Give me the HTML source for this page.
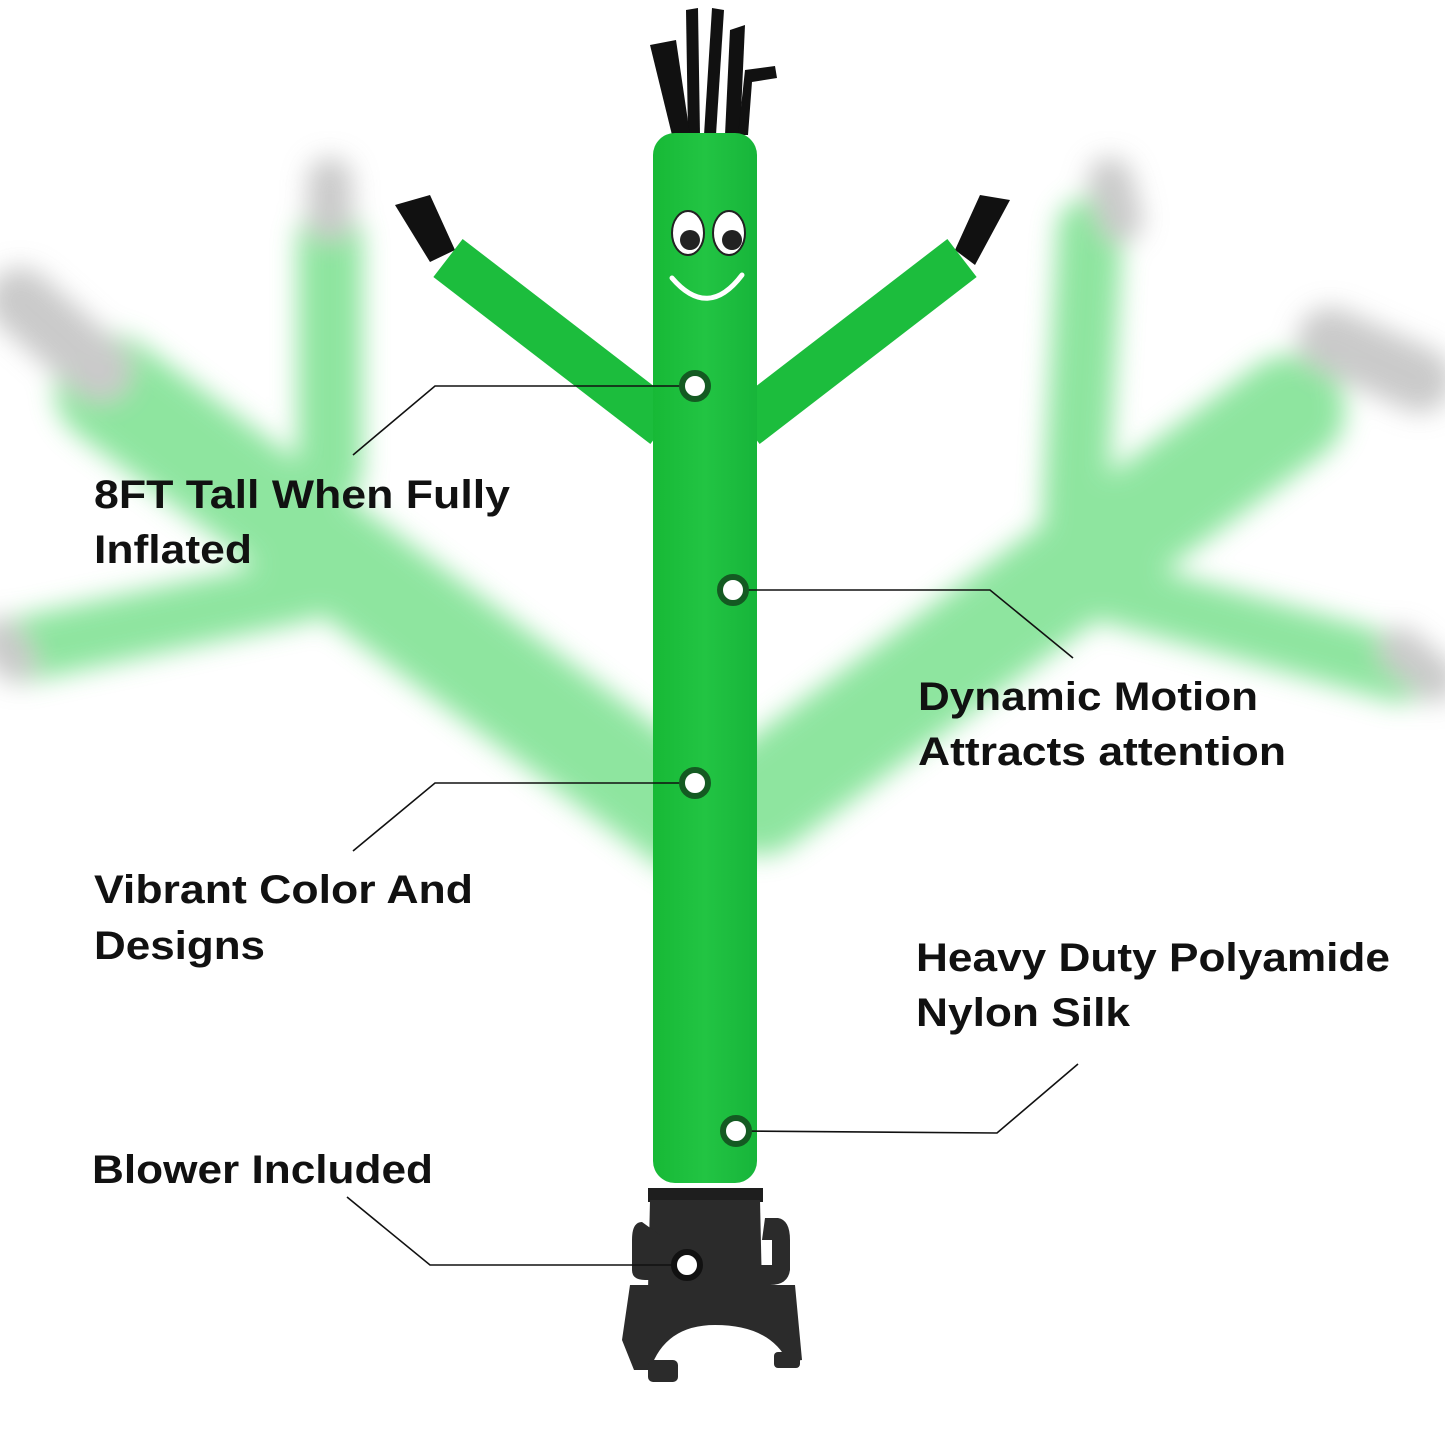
<!DOCTYPE html>
<html><head><meta charset="utf-8"><style>
html,body{margin:0;padding:0;background:#fff}
svg{display:block}
text{font-family:"Liberation Sans",Arial,sans-serif;font-weight:bold;font-size:40px;fill:#111}
</style></head><body>
<svg width="1445" height="1445" viewBox="0 0 1445 1445" xmlns="http://www.w3.org/2000/svg">
<defs>
<filter id="b" x="-20%" y="-20%" width="140%" height="140%"><feGaussianBlur stdDeviation="13"/></filter>
<linearGradient id="g" x1="0" x2="1"><stop offset="0" stop-color="#17b936"/><stop offset="0.5" stop-color="#22c443"/><stop offset="1" stop-color="#17b53a"/></linearGradient>
</defs>
<rect width="1445" height="1445" fill="#fff"/>
<g filter="url(#b)" stroke-linecap="round" opacity="0.8">
 <g stroke="#72df88">
  <line x1="110" y1="390" x2="690" y2="820" stroke-width="110"/>
  <line x1="300" y1="590" x2="20" y2="650" stroke-width="65"/>
  <line x1="330" y1="240" x2="330" y2="470" stroke-width="65"/>
  <line x1="1290" y1="410" x2="760" y2="800" stroke-width="110"/>
  <line x1="1110" y1="590" x2="1400" y2="670" stroke-width="65"/>
  <line x1="1090" y1="230" x2="1075" y2="510" stroke-width="65"/>
 </g>
 <g stroke="#bdbdbd">
  <line x1="20" y1="300" x2="100" y2="370" stroke-width="65"/>
  <line x1="1330" y1="340" x2="1420" y2="380" stroke-width="65"/>
  <line x1="330" y1="180" x2="330" y2="220" stroke-width="45"/>
  <line x1="1110" y1="180" x2="1120" y2="220" stroke-width="45"/>
  <line x1="1400" y1="650" x2="1435" y2="680" stroke-width="45"/>
  <line x1="0" y1="640" x2="15" y2="660" stroke-width="45"/>
 </g>
</g>
<g fill="#111">
 <path d="M686 10 L698 8 L700 135 L688 135 Z"/>
 <path d="M712 8 L724 10 L716 135 L704 135 Z"/>
 <path d="M650 45 L676 40 L690 135 L672 135 Z"/>
 <path d="M730 30 L745 25 L740 135 L725 135 Z"/>
 <path d="M745 70 L775 66 L777 78 L752 82 L748 135 L738 135 Z"/>
 <path d="M395 205 L430 195 L455 250 L430 262 Z"/>
 <path d="M1010 200 L980 195 L955 250 L975 265 Z"/>
</g>
<g stroke-width="48" stroke-linecap="butt">
 <line x1="448" y1="258" x2="665" y2="425" stroke="#1cbd3d"/>
 <line x1="962" y1="258" x2="745" y2="425" stroke="#1cbd3d"/>
</g>
<rect x="653" y="133" width="104" height="1050" rx="22" fill="url(#g)"/>
<ellipse cx="688" cy="233" rx="16" ry="22" fill="#fff" stroke="#222" stroke-width="2"/>
<ellipse cx="729" cy="233" rx="16" ry="22" fill="#fff" stroke="#222" stroke-width="2"/>
<circle cx="690" cy="240" r="10" fill="#222"/>
<circle cx="732" cy="240" r="10" fill="#222"/>
<path d="M672 278 Q708 320 742 275" stroke="#fff" stroke-width="5" fill="none" stroke-linecap="round"/>
<g fill="#2b2b2b">
 <rect x="648" y="1188" width="115" height="14" fill="#1e1e1e"/>
 <path d="M650 1200 L760 1200 L762 1290 L648 1290 Z"/>
 <path d="M642 1222 Q632 1222 632 1240 L632 1270 Q632 1280 645 1280 L660 1280 L660 1235 Z"/>
 <path d="M765 1218 L778 1218 Q790 1220 790 1240 L790 1270 Q788 1285 770 1285 L760 1285 L760 1265 L772 1265 L772 1240 L762 1240 Z"/>
 <path d="M630 1285 L795 1285 L802 1360 L788 1362 Q770 1325 715 1325 Q665 1325 650 1370 L634 1370 L622 1340 Z"/>
 <rect x="648" y="1360" width="30" height="22" rx="5"/>
 <rect x="774" y="1352" width="26" height="16" rx="4"/>
</g>
<g stroke="#111" stroke-width="1.6" fill="none">
 <polyline points="695,386 435,386 353,455"/>
 <polyline points="733,590 990,590 1073,658"/>
 <polyline points="695,783 435,783 353,851"/>
 <polyline points="736,1131 997,1133 1078,1064"/>
 <polyline points="687,1265 430,1265 347,1197"/>
</g>
<g fill="#fff" stroke="#145a22" stroke-width="6">
 <circle cx="695" cy="386" r="13"/>
 <circle cx="733" cy="590" r="13"/>
 <circle cx="695" cy="783" r="13"/>
 <circle cx="736" cy="1131" r="13"/>
 <circle cx="687" cy="1265" r="13" stroke="#111"/>
</g>
<text x="94" y="508" textLength="416" lengthAdjust="spacingAndGlyphs">8FT Tall When Fully</text>
<text x="94" y="563" textLength="158" lengthAdjust="spacingAndGlyphs">Inflated</text>
<text x="918" y="710" textLength="340" lengthAdjust="spacingAndGlyphs">Dynamic Motion</text>
<text x="918" y="765" textLength="368" lengthAdjust="spacingAndGlyphs">Attracts attention</text>
<text x="94" y="903" textLength="379" lengthAdjust="spacingAndGlyphs">Vibrant Color And</text>
<text x="94" y="959" textLength="171" lengthAdjust="spacingAndGlyphs">Designs</text>
<text x="916" y="971" textLength="474" lengthAdjust="spacingAndGlyphs">Heavy Duty Polyamide</text>
<text x="916" y="1026" textLength="214" lengthAdjust="spacingAndGlyphs">Nylon Silk</text>
<text x="92" y="1183" textLength="341" lengthAdjust="spacingAndGlyphs">Blower Included</text>
</svg>
</body></html>
